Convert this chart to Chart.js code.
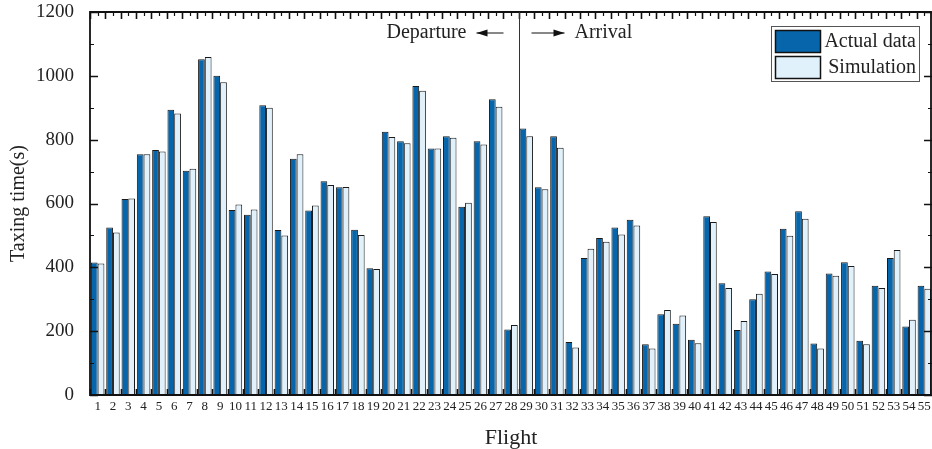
<!DOCTYPE html>
<html>
<head>
<meta charset="utf-8">
<script src="https://cdn.jsdelivr.net/npm/chart.js@4/dist/chart.umd.min.js"></script>
<style>
html,body{margin:0;padding:0;background:#fff;}
#wrap{width:932px;height:449px;position:relative;}
</style>
</head>
<body>
<div id="wrap"><canvas id="c" width="932" height="449"></canvas></div>
<script>
const flights = ["1","2","3","4","5","6","7","8","9","10","11","12","13","14","15","16","17","18","19","20","21","22","23","24","25","26","27","28","29","30","31","32","33","34","35","36","37","38","39","40","41","42","43","44","45","46","47","48","49","50","51","52","53","54","55"];
const actualData = [415,525,614,754,768,894,703,1052,1000,580,565,908,517,740,578,670,651,518,397,825,795,968,772,811,590,795,927,205,835,651,811,166,429,492,525,549,159,253,223,173,560,350,204,300,387,521,576,161,381,416,170,342,429,215,342];
const simulation = [412,509,616,754,763,882,709,1059,980,597,581,900,500,754,594,658,652,501,395,808,789,953,772,806,602,785,903,219,811,645,775,149,458,480,503,531,146,266,249,162,542,335,232,317,379,499,552,146,374,404,159,335,454,236,333];
const yTicks = [0,200,400,600,800,1000,1200];
const seriesNames = ["Actual data","Simulation"];
const splitAfter = 28; // Departure flights 1-28, Arrival 29-55
const SERIF = '"Liberation Serif","Times New Roman",serif';

const framePlugin = {
  id: 'frame',
  afterDraw(chart) {
    const ctx = chart.ctx;
    const a = chart.chartArea;
    const xs = chart.scales.x, ys = chart.scales.y;
    ctx.save();
    ctx.strokeStyle = '#111';
    ctx.lineWidth = 1;
    // y ticks (left & right, inward)
    for (let v = 0; v <= 1200; v += 100) {
      const y = Math.round(ys.getPixelForValue(v)) + 0.5;
      const len = (v % 200 === 0) ? 8 : 4;
      ctx.lineWidth = (v % 200 === 0) ? 1.6 : 1.2;
      ctx.beginPath();
      ctx.moveTo(a.left, y); ctx.lineTo(a.left + len, y);
      ctx.moveTo(a.right, y); ctx.lineTo(a.right - len, y);
      ctx.stroke();
    }
    // x ticks (top & bottom, inward)
    const n = chart.data.labels.length;
    const step = (xs.getPixelForValue(1) - xs.getPixelForValue(0));
    for (let i = 0; i <= n; i++) {
      const xb = Math.round(xs.getPixelForValue(i) - step / 2) + 0.5;
      ctx.lineWidth = 1.6;
      ctx.beginPath();
      ctx.moveTo(xb, a.bottom); ctx.lineTo(xb, a.bottom - 6);
      ctx.moveTo(xb, a.top); ctx.lineTo(xb, a.top + 7);
      ctx.stroke();
      if (i < n) {
        const xc = Math.round(xs.getPixelForValue(i)) + 0.5;
        ctx.lineWidth = 1.2;
        ctx.beginPath();
        ctx.moveTo(xc, a.top); ctx.lineTo(xc, a.top + 4);
        ctx.stroke();
      }
    }
    // frame
    ctx.lineWidth = 1.8;
    ctx.strokeStyle = '#111';
    ctx.beginPath();
    ctx.moveTo(a.left, a.bottom); ctx.lineTo(a.left, a.top);
    ctx.lineTo(a.right - 1, a.top); ctx.lineTo(a.right - 1, a.bottom);
    ctx.closePath();
    ctx.stroke();
    // separator line
    const xsep = Math.round((xs.getPixelForValue(splitAfter - 1) + xs.getPixelForValue(splitAfter)) / 2) + 0.5;
    ctx.lineWidth = 1;
    ctx.strokeStyle = '#333';
    ctx.beginPath();
    ctx.moveTo(xsep, a.top); ctx.lineTo(xsep, a.bottom);
    ctx.stroke();
    // annotations
    ctx.fillStyle = '#222';
    ctx.font = '20px ' + SERIF;
    ctx.textBaseline = 'middle';
    ctx.textAlign = 'right';
    ctx.fillText('Departure', xsep - 53, 33);
    ctx.textAlign = 'left';
    ctx.fillText('Arrival', xsep + 55, 33);
    // arrows
    function arrow(x1, x2, y) {
      ctx.strokeStyle = '#111'; ctx.fillStyle = '#111'; ctx.lineWidth = 1;
      ctx.beginPath(); ctx.moveTo(x1, y); ctx.lineTo(x2, y); ctx.stroke();
      const d = x2 > x1 ? 1 : -1;
      ctx.beginPath();
      ctx.moveTo(x2, y); ctx.lineTo(x2 - d * 11, y - 3.5); ctx.lineTo(x2 - d * 11, y + 3.5);
      ctx.closePath(); ctx.fill();
    }
    arrow(xsep - 16, xsep - 43, 33);
    arrow(xsep + 12, xsep + 45, 33);
    // legend
    const lx = 771, ly = 26, lw = 148, lh = 55;
    ctx.fillStyle = '#fff';
    ctx.fillRect(lx, ly, lw, lh);
    ctx.strokeStyle = '#555'; ctx.lineWidth = 1;
    ctx.strokeRect(lx + 0.5, ly + 0.5, lw, lh);
    chart.data.datasets.forEach((ds, i) => {
      const sy = ly + 4 + i * 26;
      ctx.fillStyle = ds.backgroundColor;
      ctx.fillRect(lx + 4, sy, 45, 22);
      ctx.strokeStyle = '#111'; ctx.lineWidth = 1.5;
      ctx.strokeRect(lx + 4.5, sy + 0.5, 45, 22);
      ctx.fillStyle = '#222';
      ctx.font = '20px ' + SERIF;
      ctx.textAlign = 'right';
      ctx.textBaseline = 'middle';
      ctx.fillText(ds.label, lx + lw - 3, sy + 12);
    });
    ctx.restore();
  }
};

new Chart(document.getElementById('c'), {
  type: 'bar',
  data: {
    labels: flights,
    datasets: [
      { label: seriesNames[0], data: actualData, backgroundColor: '#0766AB', borderColor: '#1a1a1a', borderWidth: 1, borderSkipped: false },
      { label: seriesNames[1], data: simulation, backgroundColor: '#E0F1FB', borderColor: '#1a1a1a', borderWidth: 1, borderSkipped: false }
    ]
  },
  options: {
    responsive: false,
    animation: false,
    devicePixelRatio: 1,
    layout: { padding: { top: 12, right: 0, left: 0, bottom: 0 } },
    datasets: { bar: { categoryPercentage: 0.88, barPercentage: 1.0 } },
    plugins: { legend: { display: false }, tooltip: { enabled: false } },
    scales: {
      x: {
        grid: { display: false, drawTicks: false },
        border: { display: false },
        ticks: { autoSkip: false, maxRotation: 0, minRotation: 0, padding: 4, color: '#222', font: { family: SERIF, size: 13 } },
        title: { display: true, text: 'Flight', color: '#222', font: { family: SERIF, size: 22, lineHeight: 1.0 }, padding: { top: 0, bottom: 0 } },
        afterFit(s) { s.height = 54; s.paddingLeft = 0; s.paddingRight = 0; }
      },
      y: {
        min: 0, max: 1200,
        afterBuildTicks(s) { s.ticks = yTicks.map(v => ({ value: v })); },
        grid: { display: false, drawTicks: false },
        border: { display: false },
        ticks: { padding: 16, color: '#222', font: { family: SERIF, size: 19 }, callback: (v) => String(v) },
        title: { display: true, text: 'Taxing time(s)', color: '#222', font: { family: SERIF, size: 20 }, padding: { top: 7, bottom: 0 } },
        afterFit(s) { s.width = 90; s.paddingTop = 0; s.paddingBottom = 0; }
      }
    }
  },
  plugins: [framePlugin]
});
</script>
</body>
</html>
